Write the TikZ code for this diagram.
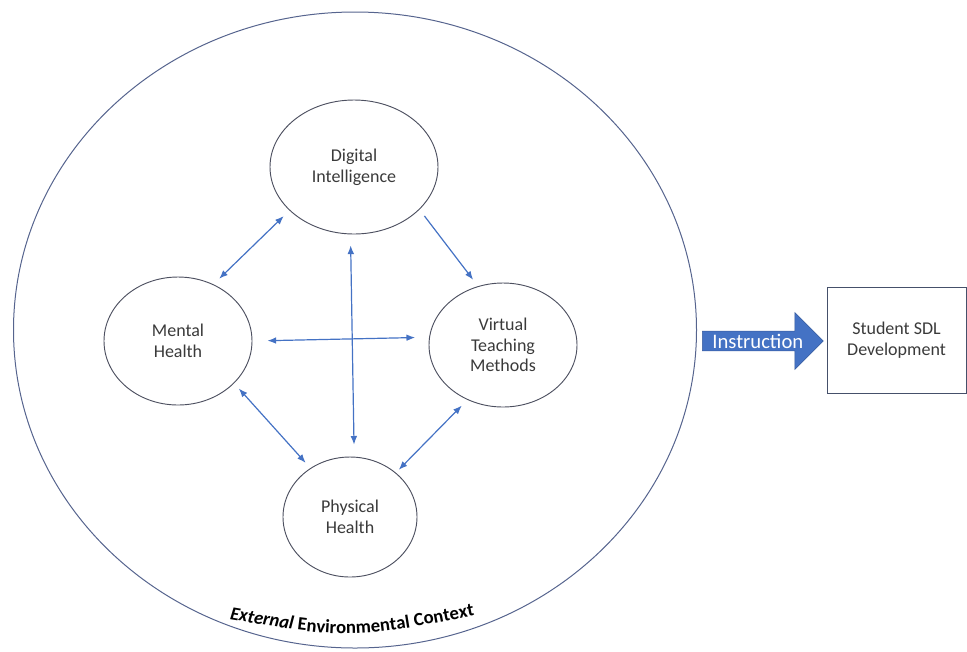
\documentclass[tikz,border=0pt]{standalone}
\usepackage{fontspec}
\setmainfont{Carlito}
\usetikzlibrary{shapes.geometric,shapes.arrows,arrows.meta,decorations.text}
\definecolor{linkblue}{HTML}{4472C4}
\definecolor{rimgrey}{HTML}{4D5060}
\definecolor{ctxblue}{HTML}{56648E}
\definecolor{txtgrey}{HTML}{3A3A3A}
\definecolor{boxrim}{HTML}{45506A}

\begin{document}
\begin{tikzpicture}[x=0.75pt, y=-0.75pt,
  bubble/.style={ellipse, draw=rimgrey, line width=0.7pt, inner sep=0pt,
    align=center, text=txtgrey, font=\fontsize{13.5}{15.5}\selectfont},
  link/.style={draw=linkblue, line width=0.9pt,
    {Latex[length=6.5pt,width=5pt]}-{Latex[length=6.5pt,width=5pt]}},
  onelink/.style={draw=linkblue, line width=0.9pt, -{Latex[length=6.5pt,width=5pt]}}]

  % === frame ===
  \def\pxu{0.75pt}   % one pixel of the reference
  \useasboundingbox (0,0) rectangle (967,651);

  % External context
  \node[ellipse, draw=ctxblue, line width=0.75pt, inner sep=0pt,
    minimum width=683*\pxu, minimum height=636*\pxu] (ctx) at (355,330) {};

  % Four factors
  \node[bubble, minimum width=168*\pxu, minimum height=134*\pxu] (di) at (354,167) {Digital\\Intelligence};
  \node[bubble, minimum width=148*\pxu, minimum height=128*\pxu] (mh) at (178,341) {Mental\\Health};
  \node[bubble, minimum width=148*\pxu, minimum height=124*\pxu] (vtm) at (503,345) {Virtual\\Teaching\\Methods};
  \node[bubble, minimum width=134*\pxu, minimum height=120*\pxu] (ph) at (350,517) {Physical\\Health};

  % Links between the factors
  \draw[link, shorten <=8*\pxu, shorten >=8*\pxu] (di.214) -- (mh.58);
  \draw[onelink, shorten <=8*\pxu, shorten >=8*\pxu] (di.327) -- (vtm.113);
  \draw[link, shorten <=11*\pxu, shorten >=12*\pxu] (di.267) -- (ph.86);
  \draw[link, shorten <=15*\pxu, shorten >=14*\pxu] (mh.0) -- (vtm.174);
  \draw[link, shorten <=7*\pxu, shorten >=7*\pxu] (mh.323) -- (ph.129);
  \draw[link, shorten <=8*\pxu, shorten >=4*\pxu] (vtm.237) -- (ph.44);

  % Outcome
  \node[draw=boxrim, line width=0.75pt, minimum width=139*\pxu, minimum height=106*\pxu,
    align=center, text=txtgrey, font=\fontsize{13.5}{15.5}\selectfont] (sdl) at (896.5,340)
    {Student SDL\\Development};

  % Instruction arrow
  \node[single arrow, fill=linkblue, draw=linkblue!80!black, line width=0.4pt, inner sep=0pt,
    minimum height=121*\pxu, minimum width=57*\pxu, single arrow head extend=14*\pxu,
    anchor=tail, text=white, font=\fontsize{15.5}{17}\selectfont] (instr) at (702,341)
    {\makebox[0pt]{Instruction}};

  % Context label along the rim
  \path[decorate, decoration={text along path, text align=center,
    text={|\fontsize{14}{16}\selectfont\bfseries\itshape|External |\fontsize{14}{16}\selectfont\bfseries|Environmental Context}}]
    (212,616) .. controls (350,640) .. (492,612);

\end{tikzpicture}
\end{document}
